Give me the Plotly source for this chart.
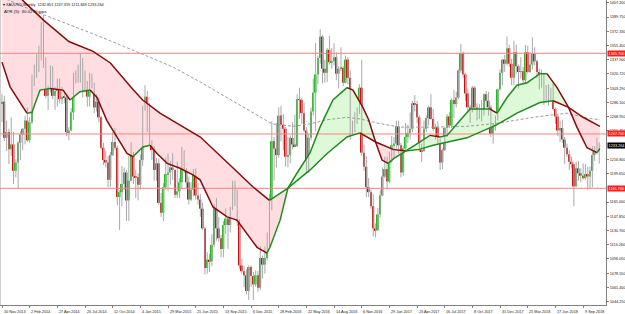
import numpy as np
import pandas as pd
import plotly.graph_objects as go

# ---------------- data (XAUUSD weekly) ----------------
first_week = "2013-11-10"

opens = [
    1284, 1287, 1243, 1250, 1229, 1235, 1203, 1213, 1237, 1247,
    1254, 1264, 1240, 1262, 1318, 1324, 1327, 1339, 1379, 1336,
    1294, 1303, 1318, 1294, 1300, 1302, 1290, 1293, 1292, 1250,
    1252, 1274, 1315, 1316, 1320, 1338, 1310, 1303, 1293, 1310,
    1305, 1280, 1287, 1268, 1231, 1216, 1213, 1192, 1222, 1238,
    1231, 1171, 1177, 1187, 1201, 1167, 1191, 1222, 1196, 1195,
    1186, 1216, 1277, 1293, 1279, 1234, 1228, 1204, 1212, 1164,
    1152, 1183, 1199, 1201, 1207, 1204, 1174, 1178, 1189, 1225,
    1204, 1189, 1168, 1180, 1201, 1173, 1168, 1157, 1133, 1085,
    1095, 1093, 1113, 1159, 1133, 1121, 1108, 1137, 1145, 1137,
    1156, 1177, 1162, 1142, 1088, 1081, 1076, 1057, 1086, 1075,
    1065, 1076, 1061, 1097, 1089, 1097, 1118, 1157, 1239, 1230,
    1222, 1270, 1259, 1254, 1220, 1222, 1243, 1235, 1233, 1290,
    1289, 1273, 1252, 1213, 1243, 1275, 1298, 1320, 1340, 1366,
    1327, 1322, 1350, 1335, 1336, 1341, 1321, 1327, 1328, 1310,
    1338, 1316, 1257, 1251, 1267, 1276, 1304, 1225, 1208, 1183,
    1177, 1160, 1133, 1131, 1150, 1173, 1196, 1205, 1190, 1220,
    1234, 1236, 1257, 1234, 1201, 1230, 1244, 1249, 1254, 1285,
    1284, 1268, 1228, 1227, 1254, 1267, 1280, 1266, 1254, 1256,
    1241, 1213, 1228, 1255, 1269, 1258, 1289, 1284, 1292, 1325,
    1346, 1320, 1297, 1280, 1275, 1304, 1280, 1272, 1269, 1275,
    1296, 1288, 1280, 1248, 1257, 1265, 1302, 1322, 1338, 1333,
    1352, 1333, 1316, 1347, 1330, 1323, 1324, 1313, 1347, 1323,
    1332, 1345, 1336, 1323, 1314, 1318, 1291, 1302, 1294, 1298,
    1278, 1269, 1252, 1255, 1241, 1231, 1223, 1214, 1211, 1184,
    1206, 1200, 1197, 1194, 1199, 1196, 1203, 1222, 1227, 1232.851,
]
highs = [
    1296, 1294, 1264, 1254, 1268, 1250, 1217, 1239, 1251, 1255,
    1270, 1280, 1268, 1320, 1332, 1345, 1355, 1384, 1392, 1341,
    1306, 1331, 1330, 1305, 1315, 1315, 1305, 1298, 1295, 1256,
    1279, 1322, 1325, 1332, 1346, 1340, 1325, 1312, 1322, 1321,
    1310, 1296, 1292, 1270, 1237, 1227, 1221, 1226, 1250, 1255,
    1234, 1179, 1209, 1207, 1204, 1221, 1238, 1226, 1204, 1200,
    1223, 1282, 1307, 1300, 1285, 1240, 1233, 1219, 1218, 1176,
    1188, 1219, 1224, 1215, 1224, 1205, 1214, 1194, 1232, 1228,
    1206, 1196, 1189, 1205, 1206, 1188, 1175, 1164, 1135, 1104,
    1102, 1126, 1162, 1170, 1147, 1125, 1142, 1157, 1146, 1159,
    1191, 1191, 1180, 1144, 1096, 1087, 1083, 1088, 1088, 1080,
    1082, 1081, 1112, 1100, 1111, 1128, 1175, 1263, 1244, 1261,
    1280, 1282, 1272, 1256, 1244, 1246, 1262, 1271, 1296, 1304,
    1292, 1286, 1256, 1248, 1280, 1315, 1358, 1343, 1375, 1368,
    1338, 1352, 1367, 1352, 1358, 1347, 1330, 1353, 1330, 1343,
    1341, 1325, 1264, 1274, 1280, 1308, 1338, 1235, 1221, 1194,
    1180, 1175, 1139, 1158, 1180, 1207, 1220, 1220, 1226, 1245,
    1244, 1264, 1264, 1237, 1233, 1261, 1259, 1274, 1288, 1295,
    1288, 1270, 1236, 1264, 1270, 1282, 1296, 1278, 1260, 1263,
    1242, 1230, 1256, 1272, 1274, 1291, 1301, 1299, 1326, 1357,
    1348, 1322, 1303, 1283, 1306, 1306, 1285, 1284, 1289, 1297,
    1300, 1299, 1283, 1260, 1270, 1303, 1326, 1339, 1344, 1366,
    1356, 1339, 1361, 1356, 1332, 1341, 1329, 1356, 1355, 1347,
    1365, 1353, 1338, 1327, 1326, 1322, 1307, 1308, 1304, 1310,
    1280, 1272, 1264, 1265, 1244, 1236, 1228, 1220, 1213, 1214,
    1215, 1206, 1212, 1211, 1208, 1208, 1233, 1233, 1243, 1237.359,
]
lows = [
    1262, 1239, 1227, 1211, 1221, 1187, 1195, 1182, 1216, 1228,
    1235, 1238, 1237, 1260, 1306, 1316, 1323, 1337, 1328, 1291,
    1277, 1298, 1290, 1277, 1281, 1285, 1284, 1285, 1245, 1240,
    1251, 1265, 1309, 1310, 1310, 1292, 1298, 1281, 1281, 1303,
    1273, 1275, 1262, 1229, 1210, 1207, 1183, 1183, 1221, 1228,
    1161, 1131, 1160, 1180, 1142, 1142, 1190, 1187, 1170, 1167,
    1180, 1209, 1276, 1250, 1233, 1216, 1191, 1191, 1162, 1147,
    1142, 1180, 1178, 1186, 1192, 1170, 1170, 1170, 1181, 1200,
    1182, 1162, 1166, 1172, 1168, 1162, 1147, 1131, 1077, 1078,
    1080, 1087, 1110, 1118, 1117, 1098, 1098, 1126, 1108, 1128,
    1155, 1160, 1136, 1084, 1078, 1062, 1053, 1046, 1062, 1046,
    1062, 1056, 1058, 1072, 1078, 1094, 1111, 1155, 1191, 1207,
    1219, 1239, 1228, 1208, 1207, 1212, 1229, 1232, 1232, 1266,
    1260, 1250, 1200, 1200, 1240, 1270, 1251, 1308, 1333, 1309,
    1310, 1311, 1332, 1327, 1331, 1313, 1303, 1324, 1306, 1309,
    1308, 1241, 1247, 1250, 1260, 1272, 1221, 1203, 1171, 1171,
    1157, 1123, 1122, 1130, 1146, 1172, 1194, 1180, 1188, 1212,
    1218, 1230, 1224, 1195, 1197, 1228, 1237, 1241, 1250, 1275,
    1261, 1226, 1214, 1226, 1250, 1258, 1265, 1251, 1241, 1236,
    1204, 1205, 1227, 1244, 1255, 1255, 1267, 1280, 1290, 1322,
    1316, 1288, 1276, 1261, 1274, 1277, 1264, 1266, 1263, 1270,
    1280, 1270, 1244, 1236, 1252, 1264, 1300, 1307, 1323, 1331,
    1329, 1307, 1307, 1321, 1303, 1315, 1310, 1308, 1321, 1322,
    1326, 1331, 1316, 1302, 1304, 1283, 1286, 1282, 1289, 1276,
    1260, 1245, 1238, 1237, 1211, 1220, 1204, 1206, 1160, 1183,
    1191, 1189, 1192, 1192, 1180, 1182, 1183, 1215, 1223, 1211.849,
]
closes = [
    1287, 1243, 1250, 1229, 1235, 1203, 1213, 1237, 1247, 1254,
    1264, 1240, 1262, 1318, 1324, 1327, 1339, 1379, 1336, 1294,
    1303, 1318, 1294, 1300, 1302, 1290, 1293, 1292, 1250, 1252,
    1274, 1315, 1316, 1320, 1338, 1310, 1303, 1293, 1310, 1305,
    1280, 1287, 1268, 1231, 1216, 1213, 1192, 1222, 1238, 1231,
    1171, 1177, 1187, 1201, 1167, 1191, 1222, 1196, 1195, 1186,
    1216, 1277, 1293, 1279, 1234, 1228, 1204, 1212, 1164, 1152,
    1183, 1199, 1201, 1207, 1204, 1174, 1178, 1189, 1225, 1204,
    1189, 1168, 1180, 1201, 1173, 1168, 1157, 1133, 1085, 1095,
    1093, 1113, 1159, 1133, 1121, 1108, 1137, 1145, 1137, 1156,
    1177, 1162, 1142, 1088, 1081, 1076, 1057, 1086, 1075, 1065,
    1076, 1061, 1097, 1089, 1097, 1118, 1157, 1239, 1230, 1222,
    1270, 1259, 1254, 1220, 1222, 1243, 1235, 1233, 1290, 1289,
    1273, 1252, 1213, 1243, 1275, 1298, 1320, 1340, 1366, 1327,
    1322, 1350, 1335, 1336, 1341, 1321, 1327, 1328, 1310, 1338,
    1316, 1257, 1251, 1267, 1276, 1304, 1225, 1208, 1183, 1177,
    1160, 1133, 1131, 1150, 1173, 1196, 1205, 1190, 1220, 1234,
    1236, 1257, 1234, 1201, 1230, 1244, 1249, 1254, 1285, 1284,
    1268, 1228, 1227, 1254, 1267, 1280, 1266, 1254, 1256, 1241,
    1213, 1228, 1255, 1269, 1258, 1289, 1284, 1292, 1325, 1346,
    1320, 1297, 1280, 1275, 1304, 1280, 1272, 1269, 1275, 1296,
    1288, 1280, 1248, 1257, 1265, 1302, 1322, 1338, 1333, 1352,
    1333, 1316, 1347, 1330, 1323, 1324, 1313, 1347, 1323, 1332,
    1345, 1336, 1323, 1314, 1318, 1291, 1302, 1294, 1298, 1278,
    1269, 1252, 1255, 1241, 1231, 1223, 1214, 1211, 1184, 1206,
    1200, 1197, 1194, 1199, 1196, 1203, 1222, 1227, 1233, 1233.264,
]

# moving averages (bar index, price)
fast_bars = [0, 3.5, 10.8, 13, 16.5, 20.8, 26.5, 29.5, 33.8, 38.2, 41.2, 45.5, 49.9, 54.2,
             56.8, 61.1, 64.2, 67.2, 71.6, 77.2, 82.8, 85.9, 91.5, 97.6, 101.9, 106.2, 110.6,
             114.9, 116.2, 120.6, 124, 127.9, 133.6, 137.9, 143.5, 149.6, 152.2, 156.5, 159,
             162, 164.8, 167.4, 170, 175, 178, 181.3, 185.6, 189.9, 193, 198.6, 203, 207.3,
             211.6, 214.7, 219, 223.3, 227.7, 233.3, 236.3, 240.7, 245.7, 249.3, 253.7, 258, 259.3]
fast_vals = [1335, 1305, 1273, 1274, 1301, 1303, 1301, 1289, 1299, 1301, 1292, 1264, 1244, 1224,
             1220, 1232, 1234, 1224, 1212, 1206, 1198, 1192, 1159, 1147, 1143, 1127, 1110,
             1103, 1110, 1143, 1182, 1200, 1225, 1256, 1289, 1304, 1301, 1280, 1265,
             1238, 1216, 1212, 1218, 1227, 1232, 1238, 1246, 1244, 1246, 1264, 1278, 1278,
             1278, 1273, 1292, 1307, 1310, 1321, 1321, 1304, 1280, 1256, 1231, 1225, 1230]
slow_bars = [0, 9, 18, 29, 39.5, 47, 57, 61, 68.5, 77, 86, 100, 109, 116, 124, 133.6, 141,
             149.6, 155.2, 162, 169.6, 175, 181, 187, 201.6, 214.7, 223.3, 233.3, 239, 245.7,
             252, 259.3]
slow_vals = [1447, 1410, 1386, 1360, 1348, 1334, 1301, 1289, 1273, 1259, 1244, 1207, 1183,
             1167, 1182, 1204, 1224, 1244, 1249, 1238, 1229, 1227, 1229, 1234, 1243, 1259,
             1273, 1286, 1288, 1280, 1268, 1257]
sma_bars = [0, 7.8, 18.6, 42.5, 59.8, 74.2, 85.9, 101.9, 117.1, 126.2, 133.6, 140.9, 149.6,
            155.2, 162.6, 172.6, 186.9, 201.6, 215.8, 230.3, 245, 253.7, 259.3]
sma_vals = [1414, 1404, 1392, 1366, 1346, 1329, 1311, 1285, 1260, 1257, 1260, 1265, 1268,
            1266, 1261, 1256, 1256, 1257, 1261, 1268, 1273, 1267, 1265]
cross_bars = [124, 162, 175, 245.7]

levels = [1345.7, 1247.7, 1181.7]
level_labels = ["1345.700", "1247.700", "1181.700"]
last_price = 1233.264

x_tick_labels = ["10 Nov 2013", "2 Feb 2014", "27 Apr 2014", "20 Jul 2014", "12 Oct 2014",
                 "4 Jan 2015", "29 Mar 2015", "21 Jun 2015", "13 Sep 2015", "6 Dec 2015",
                 "28 Feb 2016", "22 May 2016", "14 Aug 2016", "6 Nov 2016", "29 Jan 2017",
                 "23 Apr 2017", "16 Jul 2017", "8 Oct 2017", "31 Dec 2017", "25 Mar 2018",
                 "17 Jun 2018", "9 Sep 2018"]
y_tick_labels = ["1407.200", "1389.750", "1372.330", "1355.400", "1337.900", "1320.720",
                 "1303.290", "1286.100", "1268.950", "1251.450", "1216.800", "1199.650",
                 "1165.000", "1147.850", "1130.700", "1113.260", "1096.050", "1078.550",
                 "1061.400", "1044.250"]
header_text = "▾ XAUUSD,Weekly  1232.851 1237.359 1211.849 1233.264"
atr_text = "ATR (5): 30.0270 pips"

# ---------------- styling ----------------
FONT = "Liberation Sans"
BULL = "#2DB52D"
BEAR = "#C81010"
WICK = "#A8A8A8"
MA_RED = "#8B0A0A"
MA_GREEN = "#1E8C1E"
PINK = "#FFDDE0"
LGREEN = "#DDF9D8"
LEVEL = "#FF8080"
AXIS = "#808080"

n = len(closes)
weeks = pd.date_range(first_week, periods=n, freq="7D")
idx = np.arange(n)
o = np.array(opens, float)
h = np.array(highs, float)
l = np.array(lows, float)
c = np.array(closes, float)

fig = go.Figure()

# fill between fast and slow averages
fb = np.array(fast_bars); fv = np.array(fast_vals)
sb = np.array(slow_bars); sv = np.array(slow_vals)
edges = [fb[0]] + cross_bars + [fb[-1]]
for a, b in zip(edges[:-1], edges[1:]):
    sm = (sb >= a - 1e-9) & (sb <= b + 1e-9)
    fm = (fb >= a - 1e-9) & (fb <= b + 1e-9)
    px = list(sb[sm]) + list(fb[fm][::-1])
    py = list(sv[sm]) + list(fv[fm][::-1])
    bull = fv[fm].mean() > sv[sm].mean()
    fig.add_trace(go.Scatter(x=px, y=py, fill="toself", mode="lines",
                             line=dict(width=0), fillcolor=LGREEN if bull else PINK,
                             hoverinfo="skip", showlegend=False))

# dashed long average
fig.add_trace(go.Scatter(x=sma_bars, y=sma_vals, mode="lines",
                         line=dict(color="#9C9C9C", width=1, dash="3px,2px"),
                         hoverinfo="skip", showlegend=False))

# wicks
wx, wy = [], []
for i in range(n):
    wx += [i, i, None]
    wy += [l[i], h[i], None]
fig.add_trace(go.Scatter(x=wx, y=wy, mode="lines", line=dict(color=WICK, width=1),
                         hoverinfo="skip", showlegend=False))

# bodies
base = np.minimum(o, c)
height = np.maximum(np.abs(c - o), 0.9)
colors = np.where(c >= o, BULL, BEAR)
fig.add_trace(go.Bar(x=idx, y=height, base=base, width=0.8,
                     marker=dict(color=list(colors), line=dict(width=0)),
                     hoverinfo="skip", showlegend=False))

# horizontal levels
for lv in levels:
    fig.add_trace(go.Scatter(x=[-5, n + 5], y=[lv, lv], mode="lines",
                             line=dict(color=LEVEL, width=1),
                             hoverinfo="skip", showlegend=False))


# MA lines coloured by slope
def add_slope_line(bx, by, width):
    runs = []
    for k in range(len(bx) - 1):
        up = by[k + 1] >= by[k]
        if runs and runs[-1][0] == up:
            runs[-1][1].append(k + 1)
        else:
            runs.append([up, [k, k + 1]])
    for up, ks in runs:
        fig.add_trace(go.Scatter(x=[bx[k] for k in ks], y=[by[k] for k in ks], mode="lines",
                                 line=dict(color=MA_GREEN if up else MA_RED, width=width),
                                 hoverinfo="skip", showlegend=False))


add_slope_line(slow_bars, slow_vals, 1.5)
add_slope_line(fast_bars, fast_vals, 1.5)

# ---------------- axes & layout ----------------
px_per_bar = 2.306
plot_w = 606
x0 = -2 / px_per_bar
x1 = x0 + plot_w / px_per_bar
price_per_px = 1.215
plot_h = 305
y1 = 1407.2 + 2.7 * price_per_px
y0 = y1 - plot_h * price_per_px

tick_pos = [int(weeks.get_loc(pd.to_datetime(t, format="%d %b %Y"))) for t in x_tick_labels]
y_tick_vals = [float(t) for t in y_tick_labels]

annotations = []
for pos, txt in zip(tick_pos, x_tick_labels):
    annotations.append(dict(x=pos, y=0, xref="x", yref="paper", text=txt, showarrow=False,
                            xanchor="left", yanchor="top", yshift=-3, xshift=-0.5,
                            font=dict(size=3.8, color="#222", family=FONT)))
for lv, txt in zip(levels, level_labels):
    annotations.append(dict(x=1, y=lv, xref="paper", yref="y", text=txt, showarrow=False,
                            xanchor="left", yanchor="middle", xshift=1, bgcolor="#FF1A1A",
                            borderpad=0.6, font=dict(size=3.8, color="white", family=FONT)))
annotations.append(dict(x=1, y=last_price, xref="paper", yref="y", text=f"{last_price:.3f}",
                        showarrow=False, xanchor="left", yanchor="middle", xshift=1,
                        bgcolor="#000000", borderpad=0.6,
                        font=dict(size=3.8, color="white", family=FONT)))
annotations.append(dict(x=0, y=1, xref="paper", yref="paper", text=header_text, showarrow=False,
                        xanchor="left", yanchor="top", xshift=1, yshift=-1,
                        font=dict(size=3.8, color="#111", family=FONT)))
annotations.append(dict(x=0, y=1, xref="paper", yref="paper", text=atr_text, showarrow=False,
                        xanchor="left", yanchor="top", xshift=2, yshift=-7,
                        font=dict(size=4.4, color="#111", family=FONT)))

fig.update_layout(
    width=625, height=314,
    margin=dict(l=0, r=625 - plot_w, t=0, b=314 - plot_h),
    paper_bgcolor="white", plot_bgcolor="white",
    barmode="overlay", showlegend=False,
    annotations=annotations,
    font=dict(family=FONT),
    shapes=[dict(type="line", xref="paper", yref="paper", x0=0, x1=0, y0=0, y1=1,
                 line=dict(color="#A0A0A0", width=1))],
)
fig.update_xaxes(range=[x0, x1], showgrid=False, zeroline=False, showline=True,
                 linecolor=AXIS, linewidth=1, ticks="outside", ticklen=2, tickcolor=AXIS,
                 tickvals=tick_pos, showticklabels=False)
fig.update_yaxes(range=[y0, y1], side="right", showgrid=False, zeroline=False, showline=True,
                 linecolor=AXIS, linewidth=1, ticks="outside", ticklen=2, tickcolor=AXIS,
                 tickvals=y_tick_vals, ticktext=y_tick_labels,
                 tickfont=dict(size=3.8, color="#222", family=FONT))

fig.write_html("out.html")
